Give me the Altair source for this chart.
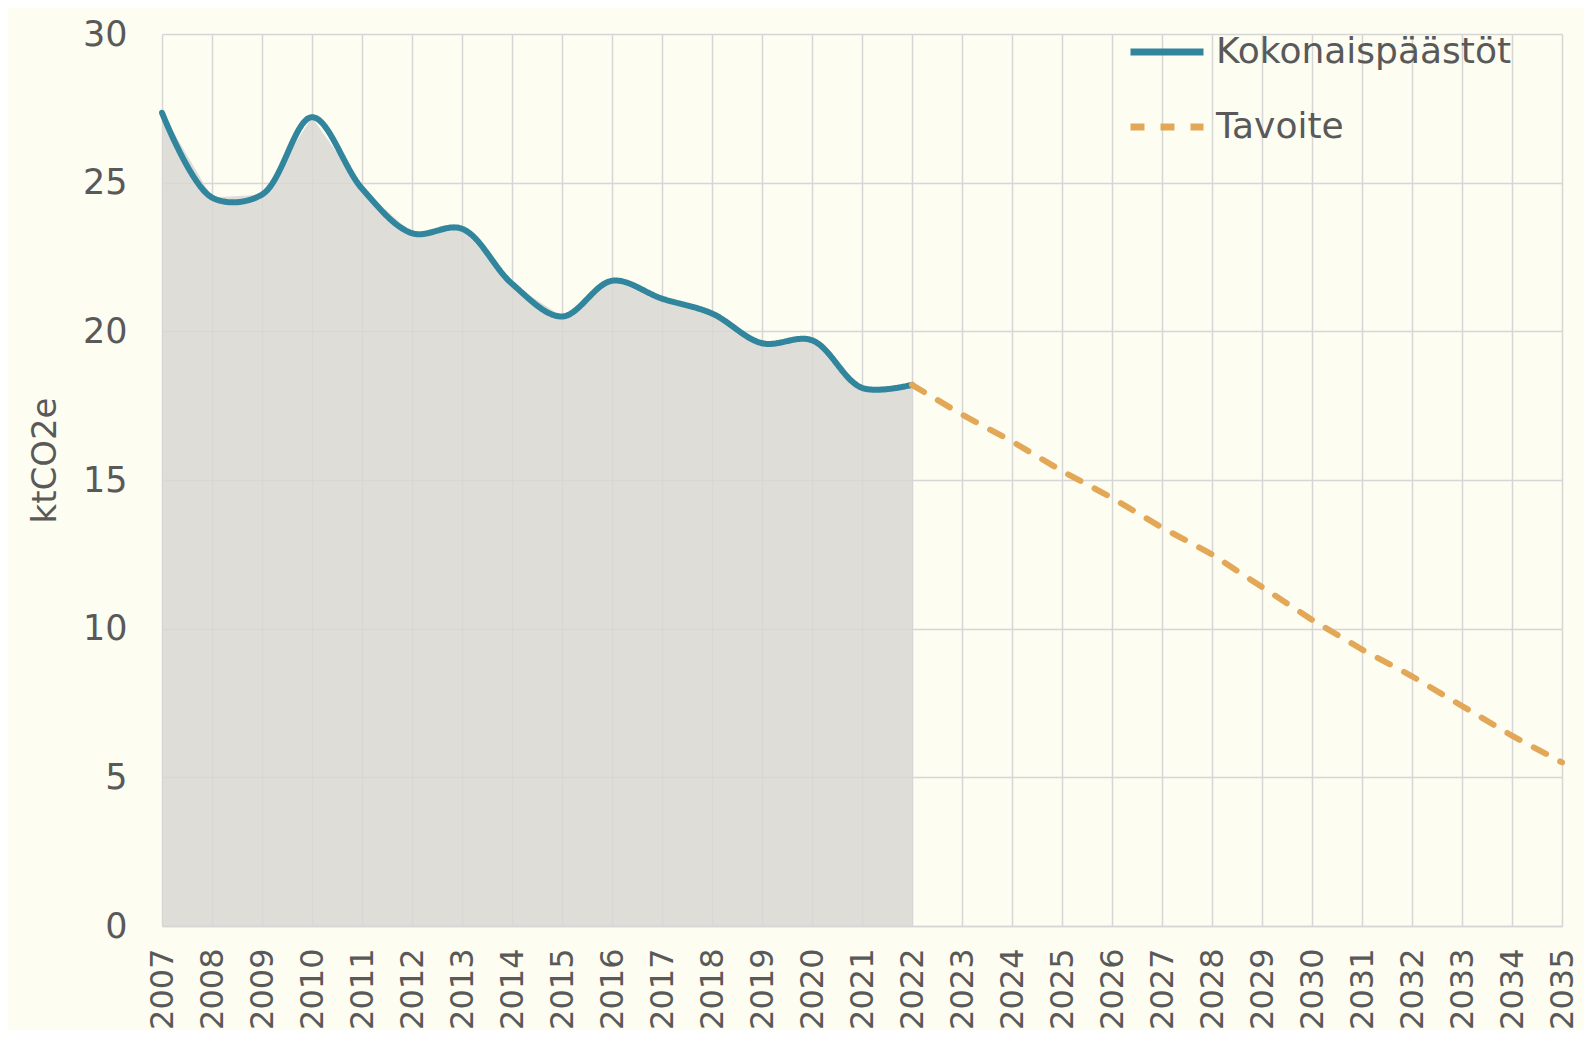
import altair as alt
import pandas as pd

# Observed total emissions (ktCO2e)
hist_years = [2007, 2008, 2009, 2010, 2011, 2012, 2013, 2014, 2015, 2016, 2017, 2018, 2019, 2020, 2021, 2022]
hist_values = [27.35, 24.5, 24.6, 27.2, 24.8, 23.3, 23.45, 21.6, 20.5, 21.7, 21.1, 20.6, 19.6, 19.7, 18.1, 18.2]

# Target path
target_years = [2022, 2023, 2024, 2025, 2026, 2027, 2028, 2029, 2030, 2031, 2032, 2033, 2034, 2035]
target_values = [18.2, 17.2, 16.3, 15.3, 14.4, 13.4, 12.5, 11.4, 10.3, 9.3, 8.4, 7.4, 6.4, 5.5]

axis_years = [2007, 2008, 2009, 2010, 2011, 2012, 2013, 2014, 2015, 2016, 2017, 2018, 2019, 2020, 2021,
              2022, 2023, 2024, 2025, 2026, 2027, 2028, 2029, 2030, 2031, 2032, 2033, 2034, 2035]
y_ticks = [0, 5, 10, 15, 20, 25, 30]

series_names = ["Kokonaispäästöt", "Tavoite"]
series_colors = ["#31869E", "#E3A857"]

hist = pd.DataFrame({"year": hist_years, "value": hist_values, "series": series_names[0]})
target = pd.DataFrame({"year": target_years, "value": target_values, "series": series_names[1]})
data = pd.concat([hist, target], ignore_index=True)

FONT = "DejaVu Sans"
TXT = "#595959"
GRID = "#D6D6D6"

x_enc = alt.X(
    "year:Q",
    scale=alt.Scale(domain=[2007, 2035], nice=False, zero=False),
    axis=alt.Axis(
        values=axis_years, format="d", labelAngle=-90, labelPadding=22,
        labelFontSize=32, labelColor=TXT, labelFont=FONT, ticks=False,
        grid=True, gridColor=GRID, gridWidth=1.5, domain=True, domainColor=GRID,
        domainWidth=1.5, title=None, labelOverlap=False, labelFlush=False,
    ),
)
y_enc = alt.Y(
    "value:Q",
    scale=alt.Scale(domain=[0, 30], nice=False),
    axis=alt.Axis(
        values=y_ticks, labelFontSize=35, labelColor=TXT, labelFont=FONT,
        labelPadding=35, ticks=False, grid=True, gridColor=GRID, gridWidth=1.5,
        domain=False, title="ktCO2e", titleFontSize=34, titleFont=FONT,
        titleColor=TXT, titleFontWeight="normal", titleAngle=-90,
        titleX=-107, titleY=426, titleAlign="center", titleBaseline="alphabetic",
    ),
)

color_scale = alt.Scale(domain=series_names, range=series_colors)
dash_scale = alt.Scale(domain=series_names, range=[[1, 0], [14, 16]])

legend = alt.Legend(
    title=None, orient="none", legendX=965, legendY=-22, symbolType="stroke",
    symbolSize=5329, symbolStrokeWidth=7, labelFontSize=36, labelFont=FONT,
    labelColor=TXT, labelOffset=9, rowPadding=17, padding=0, labelLimit=500,
)

area = alt.Chart(hist).mark_area(
    interpolate="linear", color="#D8D7D4", opacity=0.85
).encode(x=x_enc, y=y_enc)

line_hist = alt.Chart(data).transform_filter(
    alt.datum.series == series_names[0]
).mark_line(interpolate="catmull-rom", strokeWidth=6, strokeCap="round").encode(
    x=x_enc, y=y_enc,
    color=alt.Color("series:N", scale=color_scale, legend=legend),
    strokeDash=alt.StrokeDash("series:N", scale=dash_scale, legend=legend),
)

line_target = alt.Chart(data).transform_filter(
    alt.datum.series == series_names[1]
).mark_line(interpolate="linear", strokeWidth=6, strokeCap="round").encode(
    x=x_enc, y=y_enc,
    color=alt.Color("series:N", scale=color_scale, legend=legend),
    strokeDash=alt.StrokeDash("series:N", scale=dash_scale, legend=legend),
)

chart = alt.layer(area, line_hist, line_target).properties(
    width=1400, height=892,
    autosize=alt.AutoSizeParams(type="none"),
    padding={"left": 154, "top": 26, "right": 22, "bottom": 104},
    background="#FDFDF2",
).configure_view(stroke=None)

chart.save("out.html", embed_options={"renderer": "svg", "actions": False})
